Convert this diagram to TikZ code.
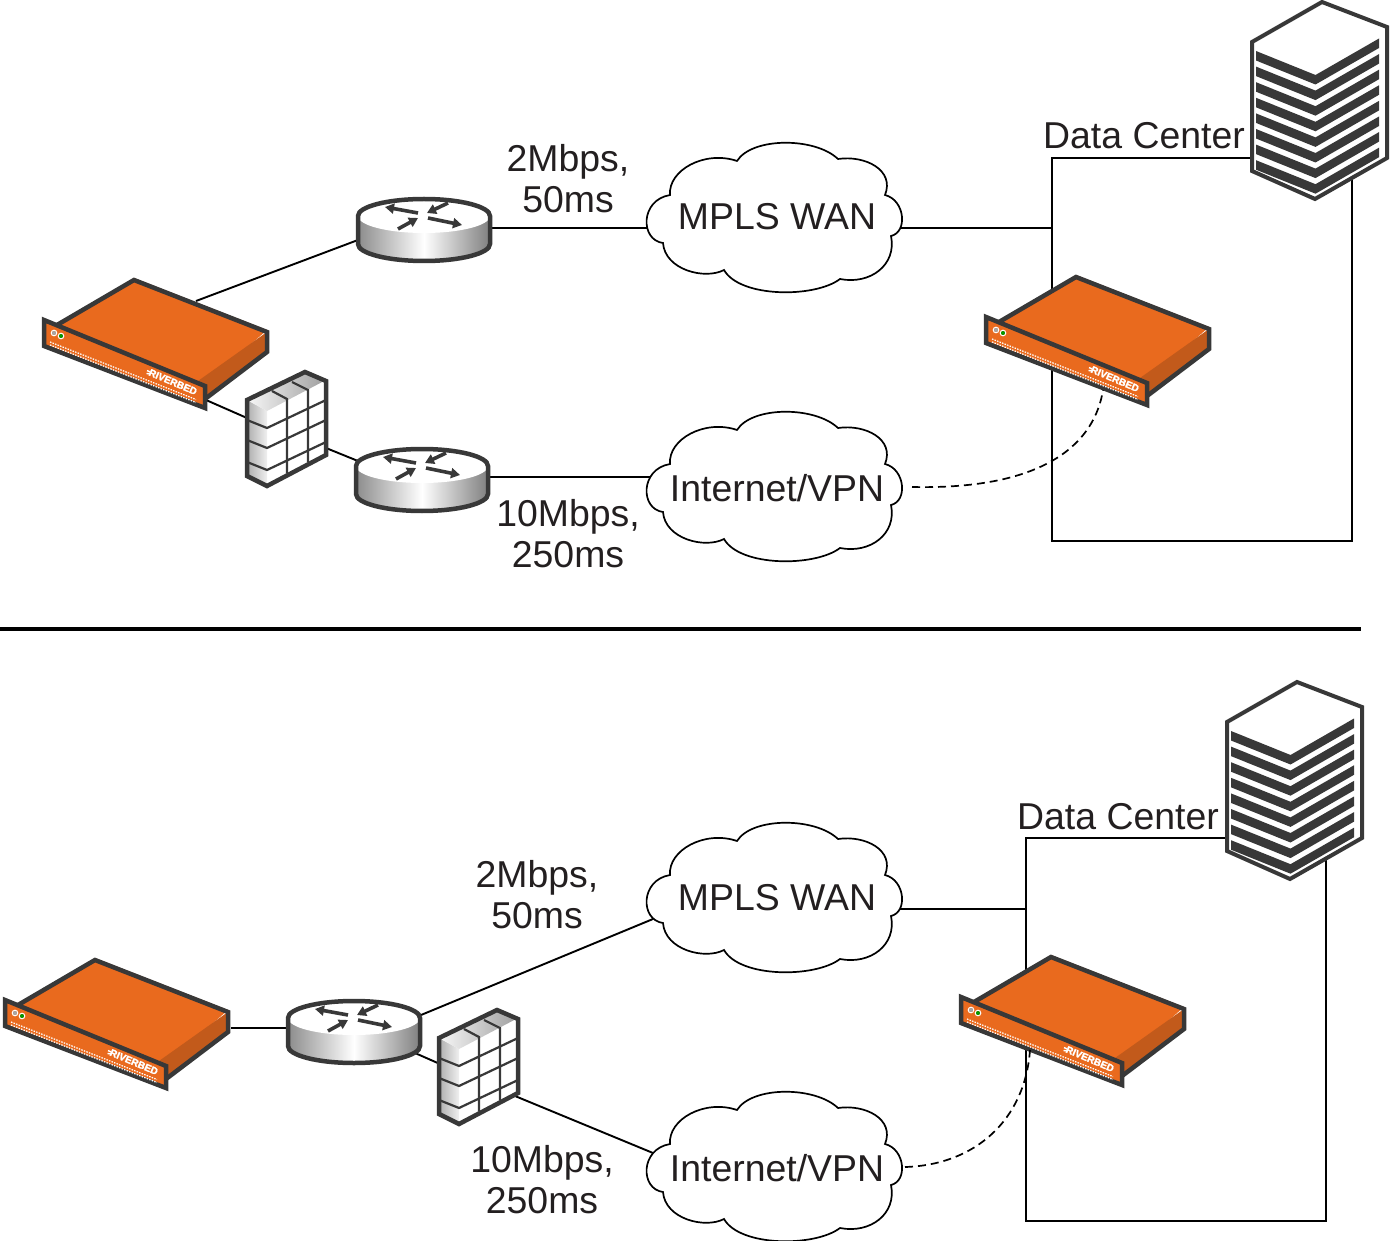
\documentclass[tikz,border=0pt]{standalone}
\usepackage{fontspec}
\setmainfont{Liberation Sans}
\newfontfamily\rvfont[FakeBold=2]{Liberation Sans Bold}
\usetikzlibrary{arrows.meta}
\definecolor{ink}{HTML}{231F20}
\definecolor{dark}{HTML}{383838}
\definecolor{rvorange}{HTML}{E96A1E}
\definecolor{rvside}{HTML}{C25A1B}
\tikzset{
  link/.style={draw=black,line width=1.9pt},
  dashlink/.style={draw=black,line width=1.7pt,dash pattern=on 8pt off 5pt},
  frame/.style={draw=black,line width=1.7pt},
  label/.style={font=\fontsize{37.4}{37.4}\selectfont,text=ink,anchor=base,inner sep=0pt},
  outline/.style={draw=dark,line width=4.5pt,line join=miter},
  pics/appliance/.style={code={
    \fill[rvorange] (134,278)--(267,330)--(204,385)--(57,325)--cycle;
    \fill[rvside] (198,381)--(267,332)--(267,353)--(206,400)--cycle;
    \fill[rvorange] (43,320)--(205,385)--(205,409)--(43,346)--cycle;
    \draw[outline] (57,325)--(134,280)--(267,332)--(267,352)--(205,399);
    \draw[outline] (44,320)--(205,386)--(205,408)--(44,346)--cycle;
    \draw[draw=white,line width=1pt] (54,333) circle (2.8);
    \fill[gray!70] (54,333) circle (2);
    \draw[draw=white,line width=1pt] (61,336) circle (2.8);
    \fill[green!60!black] (61,336) circle (2);
    \draw[white,line width=1.2pt,dash pattern=on 1.5pt off 1.2pt] (50,342)--(196,399.5);
    \draw[white,line width=1.2pt,dash pattern=on 1.5pt off 1.2pt] (50,345)--(196,402.5);
    \node[rotate=-23,text=white,inner sep=0pt,font=\rvfont\fontsize{9.9}{9.9}\selectfont] at (173,382) {RIVERBED};
    \draw[white,line width=1.4pt] (147,370.5)--(150,372) (146.5,373.5)--(150,374);
  }},
  pics/router/.style={code={
    \path[left color=black!45,right color=black!50,middle color=white]
      (358,216) -- (358,244) arc[start angle=180,end angle=0,x radius=66,y radius=17]
      -- (490,216) -- cycle;
    \fill[white] (424,216) ellipse[x radius=66,y radius=17];
    \draw[outline] (358,216) arc[start angle=180,end angle=360,x radius=66,y radius=17]
      -- (490,244) arc[start angle=0,end angle=180,x radius=66,y radius=17] -- cycle;
    \foreach \a/\b/\c/\d in {418/213/385/207,448/203/427/213,398/229/418/218,428/218/462/225}
      \draw[draw=dark,line width=3.6pt,-{Triangle[length=9pt,width=10pt]}] (\a,\b)--(\c,\d);
  }},
  pics/firewall/.style={code={
    \fill[white] (267,411)--(326,380)--(326,455)--(267,487)--cycle;
    \path[left color=black!32,right color=black!6] (247,400)--(267,411)--(267,487)--(247,478)--cycle;
    \path[left color=black!3,right color=black!38] (247,400)--(305,371)--(326,380)--(267,411)--cycle;
    \draw[draw=dark,line width=2.2pt]
      (272,391)--(287,399)--(287,473)
      (292,382)--(308,390)--(308,462)
      (247,420)--(267,428)--(326,400)
      (247,440)--(267,448)--(326,420)
      (247,462)--(267,470)--(326,442);
    \draw[outline] (247,400)--(305,372)--(326,381)--(326,455)--(267,486)--(247,476)--cycle;
  }},
  pics/server/.style={code={
    \draw[draw=dark,fill=white,line width=4pt,line join=miter]
      (1322,2)--(1387,27)--(1387,158)--(1315,199)--(1252,171)--(1252,42)--cycle;
    \foreach \i in {0,...,7}
      \fill[dark] (1256,{51+15.6*\i})--(1315.5,{75+15.6*\i})--(1379,{38.5+15.6*\i})
        --(1379,{48+15.6*\i})--(1315.5,{84.5+15.6*\i})--(1256,{60.5+15.6*\i})--cycle;
  }},
  pics/cloud/.style={code={
    \draw[draw=black,fill=white,line width=1.7pt]
      (670,195) .. controls (668,170) and (705,150) .. (737,161)
      .. controls (752,137) and (815,137) .. (838,159)
      .. controls (865,155) and (895,170) .. (885,195)
      .. controls (905,200) and (908,232) .. (891,236)
      .. controls (897,265) and (870,285) .. (840,279)
      .. controls (815,298) and (740,298) .. (724,270)
      .. controls (705,280) and (665,270) .. (663,243)
      .. controls (640,240) and (640,200) .. (670,195) -- cycle;
  }}
}
\begin{document}
\begin{tikzpicture}[x=1pt,y=-1pt]
\useasboundingbox (0,0) rectangle (1390,1241);
% named connector ends, upper half
\coordinate (uApplA) at (196,301);
\coordinate (uRtrAin) at (358,240);
\coordinate (uRtrAout) at (492,228);
\coordinate (uMplsIn) at (650,228);
\coordinate (uMplsOut) at (900,228);
\coordinate (uBoxTL) at (1052,158);
\coordinate (uBoxMid) at (1052,228);
\coordinate (uBoxTR) at (1254,158);
\coordinate (uBoxBL) at (1052,541);
\coordinate (uBoxBR) at (1352,541);
\coordinate (uBoxRT) at (1352,180);
\coordinate (uApplB) at (206,400);
\coordinate (uFwIn) at (247,418);
\coordinate (uFwOut) at (326,448);
\coordinate (uRtrBin) at (358,461);
\coordinate (uRtrBout) at (490,477);
\coordinate (uVpnIn) at (652,477);
\coordinate (uVpnOut) at (912,487);
\coordinate (uDcAppl) at (1103,390);
% named connector ends, lower half
\coordinate (lAppl) at (231,1028);
\coordinate (lRtrIn) at (288,1028);
\coordinate (lRtrOutA) at (421,1015);
\coordinate (lMplsIn) at (653,919);
\coordinate (lMplsOut) at (900,909);
\coordinate (lBoxMid) at (1026,909);
\coordinate (lBoxTL) at (1026,838);
\coordinate (lBoxTR) at (1229,838);
\coordinate (lBoxBL) at (1026,1221);
\coordinate (lBoxBR) at (1326,1221);
\coordinate (lBoxRT) at (1326,860);
\coordinate (lRtrOutB) at (415,1053);
\coordinate (lFwIn) at (440,1064);
\coordinate (lFwOut) at (515,1096);
\coordinate (lVpnIn) at (653,1153);
\coordinate (lVpnOut) at (905,1167);
\coordinate (lDcAppl) at (1030,1050);
\coordinate (divA) at (0,629);
\coordinate (divB) at (1361,629);
% connectors
\draw[link] (uApplA)--(uRtrAin);
\draw[link] (uRtrAout)--(uMplsIn);
\draw[link] (uMplsOut)--(uBoxMid);
\draw[frame] (uBoxTR)--(uBoxTL)--(uBoxBL)--(uBoxBR)--(uBoxRT);
\draw[link] (uApplB)--(uFwIn);
\draw[link] (uFwOut)--(uRtrBin);
\draw[link] (uRtrBout)--(uVpnIn);
\draw[link] (lAppl)--(lRtrIn);
\draw[link] (lRtrOutA)--(lMplsIn);
\draw[link] (lMplsOut)--(lBoxMid);
\draw[frame] (lBoxTR)--(lBoxTL)--(lBoxBL)--(lBoxBR)--(lBoxRT);
\draw[link] (lRtrOutB)--(lFwIn);
\draw[link] (lFwOut)--(lVpnIn);
\draw[draw=black,line width=3.6pt] (divA)--(divB);
% icons
\pic at (0,0) {cloud};
\pic at (0,269) {cloud};
\pic at (0,680) {cloud};
\pic at (0,949) {cloud};
\pic at (0,0) {router};
\pic at (-2,250) {router};
\pic at (-70,802) {router};
\pic at (0,0) {firewall};
\pic at (192,638) {firewall};
\pic at (0,0) {appliance};
\pic at (942,-3) {appliance};
\pic at (-39,680) {appliance};
\pic at (917,677) {appliance};
\pic at (0,0) {server};
\pic at (-25,680) {server};
\draw[dashlink] (uVpnOut) .. controls (1050,490) and (1095,440) .. (uDcAppl);
\draw[dashlink] (lVpnOut) .. controls (975,1165) and (1025,1120) .. (lDcAppl);
% labels
\node[label] (t1) at (568,172) {2Mbps,};
\node[label] (t2) at (568,213) {50ms};
\node[label] (t3) at (777,230) {MPLS WAN};
\node[label] (t4) at (1144,149) {Data Center};
\node[label] (t5) at (777,501.5) {Internet/VPN};
\node[label] (t6) at (568,526.5) {10Mbps,};
\node[label] (t7) at (568,567.5) {250ms};
\node[label] (t8) at (537,887.5) {2Mbps,};
\node[label] (t9) at (537,928.5) {50ms};
\node[label] (t10) at (777,910) {MPLS WAN};
\node[label] (t11) at (1118,829) {Data Center};
\node[label] (t12) at (777,1181) {Internet/VPN};
\node[label] (t13) at (542,1172.5) {10Mbps,};
\node[label] (t14) at (542,1213.5) {250ms};
\end{tikzpicture}
\end{document}
